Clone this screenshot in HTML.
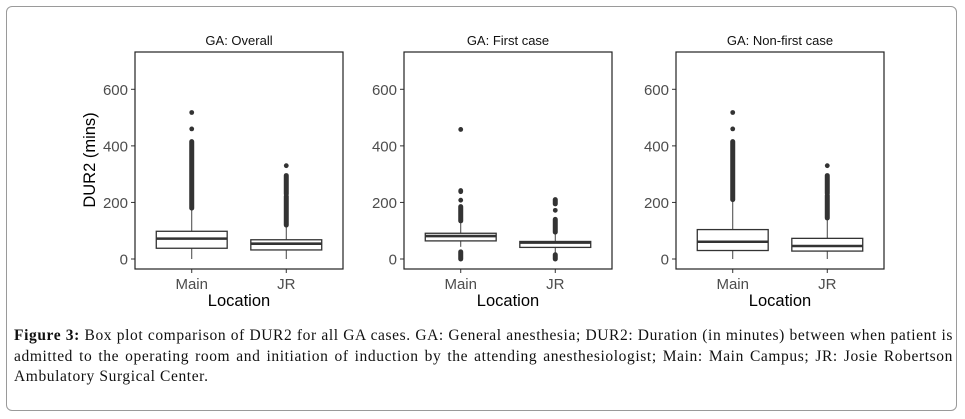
<!DOCTYPE html>
<html><head><meta charset="utf-8"><style>
body{margin:0;background:#fff;width:965px;height:419px;overflow:hidden;position:relative}
#frame{position:absolute;left:6px;top:6px;width:951px;height:405px;border:1px solid #9a9a9a;border-radius:6px;box-sizing:border-box}
#cap{position:absolute;left:14px;top:326px;width:939px;font:15.5px/20.5px "Liberation Serif",serif;text-align:justify;color:#111;letter-spacing:0.6px}
svg{position:absolute;left:0;top:0}
</style></head><body>
<div id="frame"></div>
<svg id="chart" width="965" height="325"></svg>
<div id="cap"><b>Figure 3:</b> Box plot comparison of DUR2 for all GA cases. GA: General anesthesia; DUR2: Duration (in minutes) between when patient is admitted to the operating room and initiation of induction by the attending anesthesiologist; Main: Main Campus; JR: Josie Robertson Ambulatory Surgical Center.</div>
<script>
const panelTitles=["GA: Overall","GA: First case","GA: Non-first case"];
const categories=["Main","JR"];
const yTicks=[0,200,400,600];
// [whiskerLow, q1, median, q3, whiskerHigh] per panel per category
const boxStats=[
 [[0,38,72,98,179],[0,32,54,68,119]],
 [[43,64,81,91,132],[22,41,58,62,92]],
 [[0,30,61,104,208],[0,28,46,73,142]]
];
// dense outlier clusters [lo,hi]
const outlierRanges=[
 [[[180,415]],[[120,222],[230,295]]],
 [[[0,25],[135,185]],[[0,15],[95,140],[195,210]]],
 [[[210,415]],[[145,225],[232,295]]]
];
// isolated outliers
const outlierPoints=[
 [[460,518],[330]],
 [[208,238,242,458],[172]],
 [[460,518],[330]]
];
(function(){
const NS="http://www.w3.org/2000/svg";
const svg=document.getElementById('chart');
const panelLeft=[135,404,676],panelW=208,pTop=52,pBottom=269;
function y(v){return 259-v*(169.7/600);}
function mk(t,a,p){const e=document.createElementNS(NS,t);for(const k in a)e.setAttribute(k,a[k]);(p||svg).appendChild(e);return e;}
function txt(s,a,p){const e=mk('text',a,p);e.textContent=s;return e;}
panelTitles.forEach((title,pi)=>{
 const L=panelLeft[pi],unit=panelW/2.2;
 const x=i=>L+(i+0.6)*unit;
 const g=mk('g',{});
 
 
 const t=txt(title,{x:L+panelW/2,y:45,'text-anchor':'middle','font-family':'Liberation Sans, sans-serif','font-size':13,fill:'#111'},g);
 
 
 yTicks.forEach(v=>{
  mk('line',{x1:L-4,x2:L,y1:y(v),y2:y(v),stroke:'#333','stroke-width':1},g);
  const tl=txt(v,{x:L-7,y:y(v)+5.5,'text-anchor':'end','font-family':'Liberation Sans, sans-serif','font-size':15,fill:'#4d4d4d'},g);
  
  
 });
 categories.forEach((c,ci)=>{
  const cx=x(ci),s=boxStats[pi][ci],hw=0.75*unit/2;
  mk('line',{x1:cx,x2:cx,y1:pBottom,y2:pBottom+4,stroke:'#333'},g);
  const cl=txt(c,{x:cx,y:289,'text-anchor':'middle','font-family':'Liberation Sans, sans-serif','font-size':15,fill:'#4d4d4d'},g);
  
  
  const wl=mk('line',{x1:cx,x2:cx,y1:y(s[0]),y2:y(s[4]),stroke:'#444','stroke-width':1},g);
  
  
  const b=mk('rect',{x:cx-hw,y:y(s[3]),width:2*hw,height:y(s[1])-y(s[3]),fill:'#fff',stroke:'#333','stroke-width':1.3},g);
  
  
  mk('line',{x1:cx-hw,x2:cx+hw,y1:y(s[2]),y2:y(s[2]),stroke:'#333','stroke-width':2.6},g);
  outlierRanges[pi][ci].forEach(r=>{
   const o=mk('line',{x1:cx,x2:cx,y1:y(r[0]),y2:y(r[1]),stroke:'#333','stroke-width':5,'stroke-linecap':'round'},g);
   
   
  });
  outlierPoints[pi][ci].forEach(v=>{
   const o=mk('circle',{cx:cx,cy:y(v),r:2.4,fill:'#333'},g);
   
   
  });
 });
 mk('rect',{x:L,y:pTop,width:panelW,height:pBottom-pTop,fill:'none',stroke:'#222','stroke-width':1.2},g);
 const xl=txt('Location',{x:L+panelW/2,y:306,'text-anchor':'middle','font-family':'Liberation Sans, sans-serif','font-size':16.5,fill:'#000'},g);
 
 
});
const yt=txt('DUR2 (mins)',{x:0,y:0,'text-anchor':'middle','font-family':'Liberation Sans, sans-serif','font-size':16.5,fill:'#000',transform:'translate(95,160) rotate(-90)'});


})();
</script>
</body></html>
